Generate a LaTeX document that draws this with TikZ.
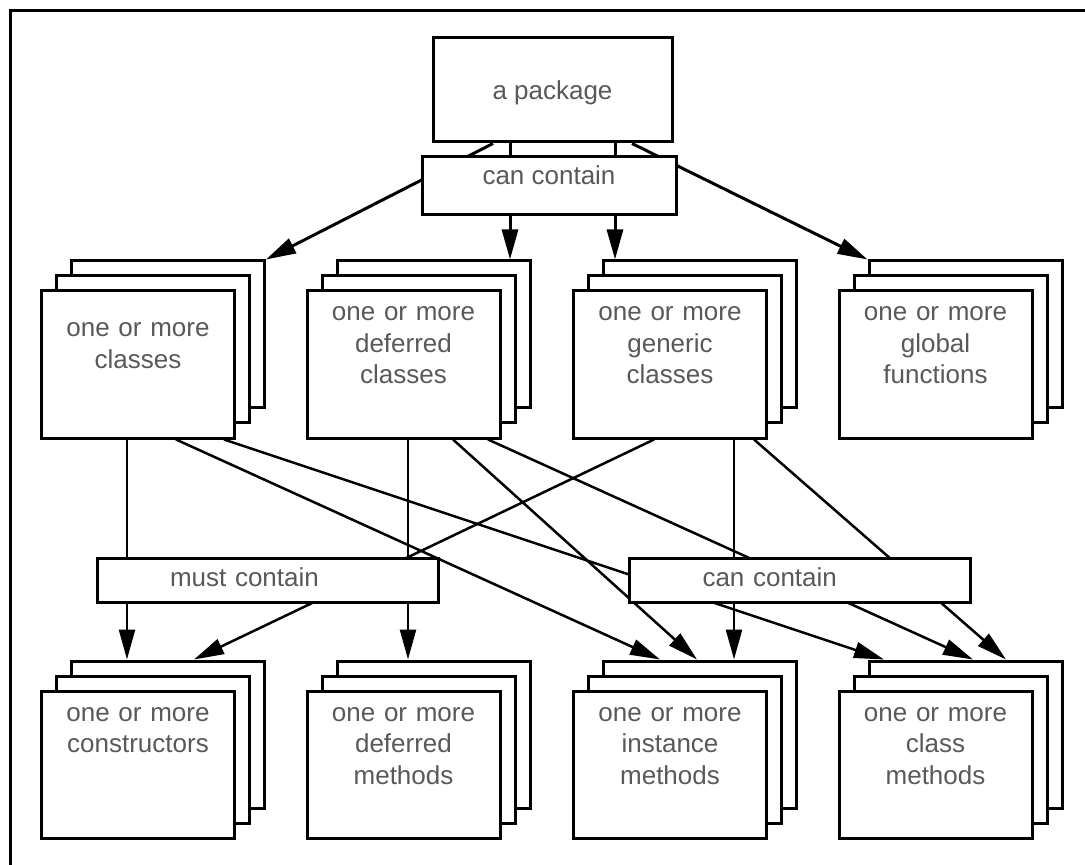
\documentclass[tikz,border=0pt]{standalone}
\usepackage{fontspec}
\setmainfont{Liberation Sans}
\usetikzlibrary{arrows.meta,shadows,calc}

\tikzset{
  >={Triangle[length=15pt,width=8pt]},
  box/.style={draw, line width=1.5pt, fill=white, text=black!65, inner sep=0pt,
    font=\fontsize{13}{15.75}\selectfont},
  pile/.style={box, text width=96.5pt, align=center,
    copy shadow={shadow xshift=15pt, shadow yshift=15pt},
    copy shadow={shadow xshift=7.5pt, shadow yshift=7.5pt},
    text height=15pt, text depth=58.5pt},
  midlbl/.style={box, text width=97.5pt, inner xsep=36.5pt, align=left,
    minimum height=22pt, text height=8pt, text depth=1.25pt},
  top/.style={->, line width=1.5pt},
  link/.style={->, line width=1.25pt},
}

\begin{document}
\begin{tikzpicture}[x=0.5pt,y=-0.5pt]
    \useasboundingbox (0,0) rectangle (1085,865);
    % frame, right and bottom edges fall off the page
    \draw[line width=1.5pt] (10,10.5) rectangle (1095,880);

    % the package
    \node[box, minimum width=119.5pt, minimum height=52pt,
          text height=11pt, text depth=1.25pt] (pkg) at (552.5,90) {a package};

    % first row
    \node[pile, text height=22.9pt, text depth=50.6pt] (cls) at (138,364.5) {one or more\\classes};
    \node[pile] (dcls) at (403.5,364.5) {one or more\\deferred\\classes};
    \node[pile] (gcls) at (670,364.5) {one or more\\generic\\classes};
    \node[pile] (glob) at (935.5,364.5) {one or more\\global\\functions};

    % second row
    \node[pile] (ctor) at (138,764.5) {one or more\\constructors};
    \node[pile] (dmeth) at (403.5,764.5) {one or more\\deferred\\methods};
    \node[pile] (imeth) at (670,764.5) {one or more\\instance\\methods};
    \node[pile] (cmeth) at (935.5,764.5) {one or more\\class\\methods};

    % package to first row
    \draw[top] ($(pkg.south)+(-59.5,0)$) -- ($(cls.north east)+(30,-30)$);
    \draw[top] ($(pkg.south)+(-42.5,0)$) -- ($(dcls.north)+(106.5,-30)$);
    \draw[top] ($(pkg.south)+(62.5,0)$) -- ($(gcls.north)+(-55,-30)$);
    \draw[top] ($(pkg.south)+(79.5,0)$) -- ($(glob.north west)+(30,-30)$);

    % first row to second row
    \draw[link] ($(cls.south)+(-11,0)$) -- ($(ctor.north)+(-11,-30)$);
    \draw[link] ($(cls.south)+(38,0)$) -- ($(imeth.north)+(-10,-30)$);
    \draw[link] ($(cls.south)+(86,0)$) -- ($(cmeth.north)+(-51.5,-30)$);
    \draw[link] ($(dcls.south)+(4.5,0)$) -- ($(dmeth.north)+(4.5,-30)$);
    \draw[link] ($(dcls.south)+(49.5,0)$) -- ($(imeth.north)+(27,-30)$);
    \draw[link] ($(dcls.south)+(84.5,0)$) -- ($(cmeth.north)+(37.5,-30)$);
    \draw[link] ($(gcls.south)+(-16,0)$) -- ($(ctor.north)+(56,-30)$);
    \draw[link] ($(gcls.south)+(64,0)$) -- ($(imeth.north)+(64,-30)$);
    \draw[link] ($(gcls.south)+(84,0)$) -- ($(cmeth.north)+(70.5,-30)$);

    % labels, drawn over the arrows
    \node[box, minimum width=127pt, minimum height=29pt,
          text height=8pt, text depth=9.25pt] (pkgcan) at (549,186) {can contain};
    \node[midlbl] (must) at (267.5,580) {must contain};
    \node[midlbl] (can) at (800,580) {can contain};
\end{tikzpicture}
\end{document}
